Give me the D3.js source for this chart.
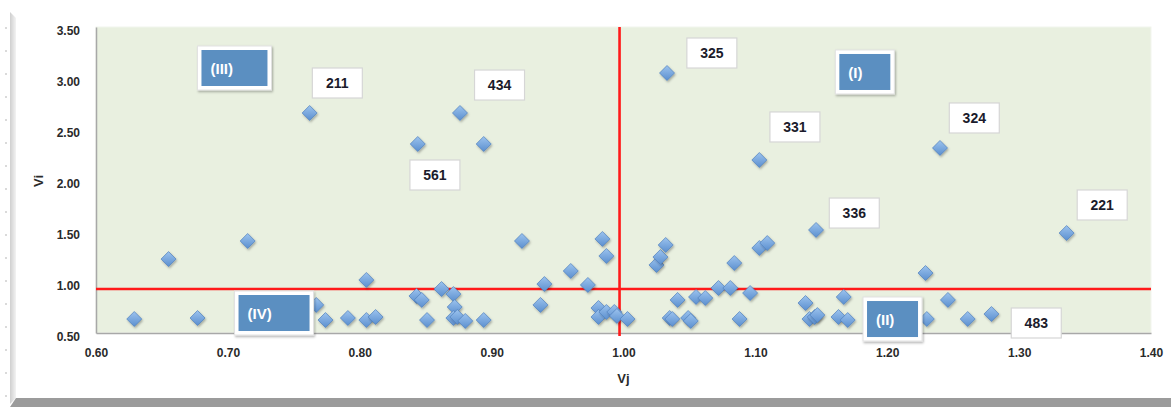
<!DOCTYPE html>
<html>
<head>
<meta charset="utf-8">
<script src="https://cdn.jsdelivr.net/npm/d3@7"></script>
<style>
  html, body { margin: 0; padding: 0; background: #ffffff; }
  svg { display: block; }
</style>
</head>
<body>
<svg id="chart" width="1171" height="407"></svg>
<script>
// ---- data ----
const vj = [0.629,0.655,0.677,0.715,0.762,0.767,0.774,0.791,0.805,0.805,0.812,0.843,0.847,0.844,0.851,0.862,0.871,0.872,0.871,0.874,0.876,0.880,0.894,0.894,0.923,0.937,0.940,0.960,0.973,0.981,0.981,0.984,0.987,0.987,0.993,0.995,1.003,
            1.025,1.028,1.032,1.033,1.035,1.037,1.041,1.049,1.051,1.055,1.062,1.072,1.081,1.084,1.088,1.096,1.103,1.103,1.109,1.138,1.141,1.145,1.147,1.146,1.163,1.167,1.170,1.229,1.230,1.240,1.246,1.261,1.279,1.336];
const vi = [0.637,1.225,0.647,1.402,2.657,0.775,0.627,0.647,1.020,0.627,0.657,0.863,0.824,2.353,0.627,0.931,0.882,0.755,0.647,0.657,2.657,0.618,2.353,0.627,1.402,0.775,0.980,1.108,0.971,0.745,0.657,1.422,1.255,0.706,0.706,0.667,0.637,
            1.167,1.245,1.363,3.049,0.647,0.637,0.824,0.647,0.618,0.853,0.843,0.941,0.941,1.186,0.637,0.892,2.196,1.333,1.382,0.794,0.637,0.657,0.676,1.510,0.657,0.853,0.627,1.088,0.637,2.314,0.824,0.637,0.686,1.480];
const xTicks = [0.60,0.70,0.80,0.90,1.00,1.10,1.20,1.30,1.40];
const yTicks = [0.50,1.00,1.50,2.00,2.50,3.00,3.50];
const splitX = 0.997;   // vertical red line (Vj)
const splitY = 0.931;   // horizontal red line (Vi)
const labelText = ["211","434","561","325","331","324","336","221","483"];
const labelVj   = [0.783,0.906,0.857,1.067,1.130,1.266,1.175,1.363,1.313];
const labelVi   = [2.951,2.931,2.049,3.245,2.520,2.608,1.676,1.755,0.598];
const quadText  = ["(III)","(I)","(IV)","(II)"];
const quadVj    = [0.705,1.183,0.735,1.204];
const quadVi    = [3.098,3.059,0.696,0.637];
const quadW     = [66,51,71,51];

// ---- drawing ----
const svg = d3.select("#chart");
const W = 1171, H = 407;
const x = d3.scaleLinear().domain([0.6, 1.4]).range([96, 1151]);
const y = d3.scaleLinear().domain([0.5, 3.5]).range([333, 27]);

const defs = svg.append("defs");
const lg = defs.append("linearGradient").attr("id","mk").attr("x1","0").attr("y1","0").attr("x2","0").attr("y2","1");
lg.append("stop").attr("offset","0%").attr("stop-color","#9cc3ee");
lg.append("stop").attr("offset","100%").attr("stop-color","#5b8fcf");
const sh = defs.append("linearGradient").attr("id","lsh").attr("x1","0").attr("y1","0").attr("x2","1").attr("y2","0");
sh.append("stop").attr("offset","0%").attr("stop-color","#cfcfcf");
sh.append("stop").attr("offset","100%").attr("stop-color","#f3f3f3");
const f = defs.append("filter").attr("id","ds").attr("x","-30%").attr("y","-30%").attr("width","160%").attr("height","160%");
f.append("feDropShadow").attr("dx",1).attr("dy",1.5).attr("stdDeviation",1.2).attr("flood-color","#000").attr("flood-opacity",0.3);

// frame decorations
svg.append("rect").attr("width",W).attr("height",H).attr("fill","#fff");
svg.append("path").attr("d","M10,12 L16,18 L16,398 L10,404 Z").attr("fill","url(#lsh)");
svg.append("path").attr("d","M10,407 L16,398 L1171,398 L1171,407 Z").attr("fill","#9b9b9b");
const marks = d3.range(28, 400, 23);
svg.append("g").selectAll("line").data(marks).join("line")
  .attr("x1",5).attr("x2",7).attr("y1",d=>d).attr("y2",d=>d)
  .attr("stroke","#b5b5b5").attr("stroke-width",1);

// plot area
svg.append("rect")
  .attr("x", x(0.6)).attr("y", y(3.5))
  .attr("width", x(1.4)-x(0.6)).attr("height", y(0.5)-y(3.5))
  .attr("fill","#e9f0e0").attr("stroke","#f2f5ee").attr("stroke-width",1);

// axes
const xAxis = d3.axisBottom(x).tickValues(xTicks).tickFormat(d3.format(".2f")).tickSize(0).tickPadding(15);
const gx = svg.append("g").attr("transform",`translate(0,${y(0.5)})`).call(xAxis);
gx.select(".domain").attr("stroke","#a8a8a8").attr("stroke-width",1.5);
gx.selectAll("text").attr("font-family","'Liberation Sans', Arial, sans-serif").attr("font-size",12).attr("font-weight","bold").attr("fill","#2a2a2a");

const yAxis = d3.axisLeft(y).tickValues(yTicks).tickFormat(d3.format(".2f")).tickSize(0).tickPadding(16);
const gy = svg.append("g").attr("transform",`translate(${x(0.6)},0)`).call(yAxis);
gy.select(".domain").attr("stroke","#a8a8a8").attr("stroke-width",1.5);
gy.selectAll("text").attr("font-family","'Liberation Sans', Arial, sans-serif").attr("font-size",12).attr("font-weight","bold").attr("fill","#2a2a2a").attr("dy","0.62em");

svg.append("text").attr("x", x(1.0)).attr("y", 383).attr("text-anchor","middle")
  .attr("font-family","'Liberation Sans', Arial, sans-serif").attr("font-size",13).attr("font-weight","bold").attr("fill","#2a2a2a").text("Vj");
svg.append("text").attr("transform",`translate(43,${y(2.0)+1}) rotate(-90)`).attr("text-anchor","middle")
  .attr("font-family","'Liberation Sans', Arial, sans-serif").attr("font-size",13).attr("font-weight","bold").attr("fill","#2a2a2a").text("Vi");

// red split lines
svg.append("line").attr("x1", x(0.6)).attr("x2", x(1.4)).attr("y1", y(splitY)).attr("y2", y(splitY))
  .attr("stroke","#ff1a1a").attr("stroke-width",2.6);
svg.append("line").attr("x1", x(splitX)).attr("x2", x(splitX)).attr("y1", y(3.5)).attr("y2", y(0.5)+3)
  .attr("stroke","#ff1a1a").attr("stroke-width",2.6);

// points
const pts = vj.map((v,i)=>({x:v, y:vi[i]}));
svg.append("g").selectAll("path").data(pts).join("path")
  .attr("transform", d=>`translate(${x(d.x)},${y(d.y)})`)
  .attr("d","M0,-7.5L7.5,0L0,7.5L-7.5,0Z")
  .attr("fill","url(#mk)").attr("stroke","#4f80bd").attr("stroke-width",0.7)
  .attr("filter","url(#ds)");

// quadrant labels
const quads = quadText.map((t,i)=>({t, x:quadVj[i], y:quadVi[i], w:quadW[i]}));
const qg = svg.append("g").selectAll("g").data(quads).join("g")
  .attr("transform", d=>`translate(${x(d.x)},${y(d.y)})`);
qg.append("rect").attr("x",d=>-d.w/2-4).attr("y",-22).attr("width",d=>d.w+8).attr("height",44)
  .attr("fill","#ffffff").attr("stroke","#e2e2e2").attr("stroke-width",1).attr("filter","url(#ds)");
qg.append("rect").attr("x",d=>-d.w/2).attr("y",-18).attr("width",d=>d.w).attr("height",36)
  .attr("fill","#5b8fc1");
qg.append("text").attr("x",d=>-d.w/2+9).attr("y",6)
  .attr("font-family","'Liberation Sans', Arial, sans-serif").attr("font-size",15).attr("font-weight","bold")
  .attr("fill","#ffffff").text(d=>d.t);

// number labels
const labs = labelText.map((t,i)=>({t, x:labelVj[i], y:labelVi[i]}));
const lgp = svg.append("g").selectAll("g").data(labs).join("g")
  .attr("transform", d=>`translate(${x(d.x)},${y(d.y)})`);
lgp.append("rect").attr("x",-25).attr("y",-15).attr("width",50).attr("height",30)
  .attr("fill","#ffffff").attr("stroke","#d6d6d6").attr("stroke-width",1.2);
lgp.append("text").attr("x",0).attr("y",5).attr("text-anchor","middle")
  .attr("font-family","'Liberation Sans', Arial, sans-serif").attr("font-size",14).attr("font-weight","bold")
  .attr("fill","#1b1b2b").text(d=>d.t);
</script>
</body>
</html>
